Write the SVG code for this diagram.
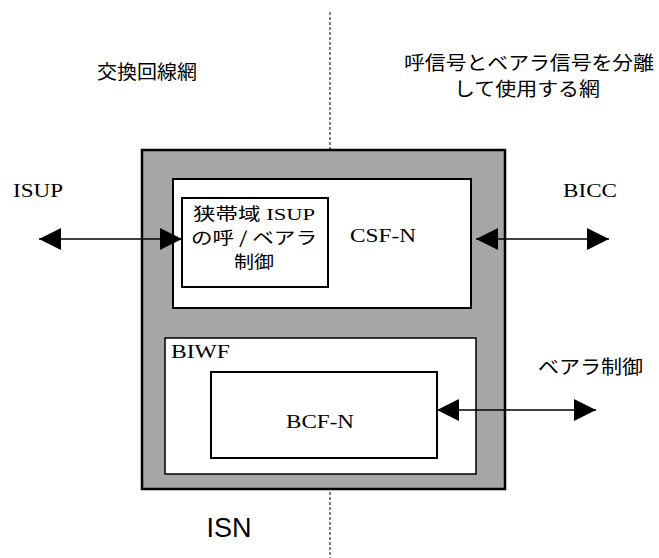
<svg xmlns="http://www.w3.org/2000/svg" width="659" height="558" viewBox="0 0 659 558">
<style>
.jp{font-family:"Noto Sans CJK JP","Noto Sans",sans-serif;font-size:19px;fill:#000}
.jps{font-family:"Noto Sans CJK JP","Noto Sans",sans-serif;font-size:17px;fill:#000}
.lat{font-family:"Liberation Serif","Noto Sans CJK JP",serif;font-size:19px;fill:#000}
.lats{font-family:"Liberation Serif","Noto Sans CJK JP",serif;font-size:17px;fill:#000}
.box{fill:#fff;stroke:#000;stroke-width:2}
.conn{stroke:#000;stroke-width:1.5;fill:none}
</style>
<defs>
<marker id="ah" markerUnits="userSpaceOnUse" markerWidth="22" markerHeight="22" viewBox="0 0 20 20" refX="20" refY="10" orient="auto-start-reverse">
<path d="M0,0 L20,10 L0,20 Z" fill="#000"/>
</marker>
</defs>
<rect width="659" height="558" fill="#fff"/>
<line x1="330" y1="12" x2="330" y2="558" stroke="#000" stroke-width="1" stroke-dasharray="3,2"/>
<text class="jp" x="147" y="79" text-anchor="middle" textLength="100" lengthAdjust="spacingAndGlyphs">交換回線網</text>
<text class="jp" x="529" y="70" text-anchor="middle" textLength="250" lengthAdjust="spacingAndGlyphs">呼信号とベアラ信号を分離</text>
<text class="jp" x="527" y="96" text-anchor="middle" textLength="146" lengthAdjust="spacingAndGlyphs">して使用する網</text>
<g id="ISN">
<rect x="142" y="150" width="363" height="339" fill="#a6a6a6" stroke="#000" stroke-width="2.5"/>
<text x="229" y="537" text-anchor="middle" font-family="Liberation Sans, Arial, sans-serif" font-size="27">ISN</text>
</g>
<g id="CSF-N">
<rect class="box" x="173" y="179" width="298" height="129"/>
<text class="lat" x="383" y="242" text-anchor="middle" textLength="66" lengthAdjust="spacingAndGlyphs">CSF-N</text>
</g>
<g id="ISUP-ctrl">
<rect class="box" x="182" y="198" width="146" height="89"/>
<text class="lats" x="254" y="220" text-anchor="middle" textLength="122" lengthAdjust="spacingAndGlyphs">狭帯域 ISUP</text>
<text class="jps" x="254" y="244" text-anchor="middle" textLength="126" lengthAdjust="spacingAndGlyphs">の呼 / ベアラ</text>
<text class="jps" x="254" y="268" text-anchor="middle" textLength="40" lengthAdjust="spacingAndGlyphs">制御</text>
</g>
<g id="BIWF">
<rect x="165" y="338" width="311" height="136" fill="#fff" stroke="#000" stroke-width="1.5"/>
<text class="lat" x="171" y="358" textLength="59" lengthAdjust="spacingAndGlyphs">BIWF</text>
</g>
<g id="BCF-N">
<rect class="box" x="211" y="372" width="226" height="86"/>
<text class="lat" x="320" y="428" text-anchor="middle" textLength="68" lengthAdjust="spacingAndGlyphs">BCF-N</text>
</g>
<text class="lat" x="13" y="197" textLength="50" lengthAdjust="spacingAndGlyphs">ISUP</text>
<text class="lat" x="563" y="197" textLength="54" lengthAdjust="spacingAndGlyphs">BICC</text>
<text class="jp" x="538" y="374" textLength="105" lengthAdjust="spacingAndGlyphs">ベアラ制御</text>
<g id="connectors">
<line class="conn" x1="39" y1="239" x2="182" y2="239" marker-start="url(#ah)" marker-end="url(#ah)"/>
<line class="conn" x1="476" y1="239" x2="609" y2="239" marker-start="url(#ah)" marker-end="url(#ah)"/>
<line class="conn" x1="437" y1="410" x2="596" y2="410" marker-start="url(#ah)" marker-end="url(#ah)"/>
</g>
</svg>
